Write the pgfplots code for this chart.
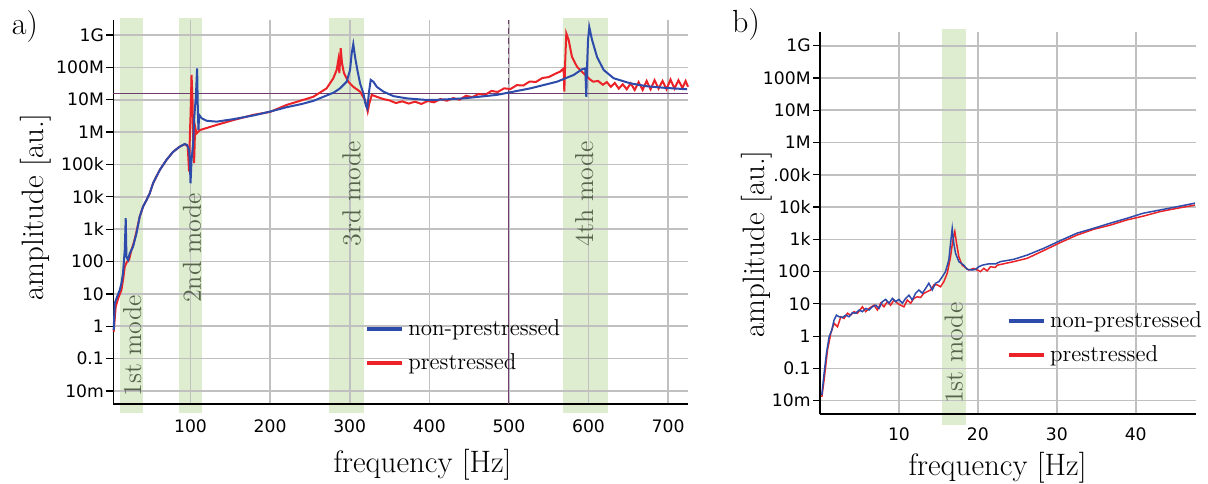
\documentclass[border=0pt]{standalone}
\usepackage{fontspec}
\usepackage{pgfplots}
\pgfplotsset{compat=1.18}
\newfontfamily\ticksf{DejaVu Sans}
\definecolor{nonpre}{RGB}{45,75,170}
\definecolor{pre}{RGB}{235,35,40}
\definecolor{band}{RGB}{222,236,208}
\definecolor{gridgray}{RGB}{192,192,192}
\definecolor{modetxt}{RGB}{85,100,75}
\definecolor{cursor}{RGB}{110,60,110}

\pgfplotsset{
  bandplot/.style={fill=band, draw=none, forget plot, on layer=axis background},
}

\begin{document}
\begin{tikzpicture}
\node[font=\fontsize{16}{18}\selectfont] at (12.5pt,228pt) {a)};
\node[font=\fontsize{16}{18}\selectfont] at (373pt,229pt) {b)};

% ---- a) full range ----
\begin{axis}[
    scale only axis, anchor=south west, clip=false,
    ymode=log, axis lines*=left, set layers=standard,
    grid=major, grid style={line width=0.8pt, gridgray},
    axis line style={black, line width=0.6pt},
    ytick={1e-2,1e-1,1,10,100,1e3,1e4,1e5,1e6,1e7,1e8,1e9},
    tick align=outside, major tick length=3.5pt,
    xtick style={draw=none}, ytick style={black, line width=0.6pt},
    minor y tick style={draw=none},
    ticklabel style={font=\ticksf\fontsize{8.6}{10}\selectfont},
    yticklabel style={inner sep=1pt},
    label style={font=\fontsize{15.5}{18}\selectfont},
    legend cell align=left, reverse legend,
    legend image code/.code={\draw[#1,line width=2pt] (0pt,0pt) -- (17.5pt,0pt);},
    at={(56.65pt,39.5pt)}, width=287.35pt, height=192pt,
    xmin=3, xmax=725, ymin=3.97e-3, ymax=2.9e9,
    xtick={100,200,300,400,500,600,700},
    xticklabels={100,200,300,400,500,600,700},
    yticklabels={10m,0.1,1,10,100,1k,10k,100k,1M,10M,100M,1G},
    xticklabel style={yshift=-1pt},
    xlabel={frequency [Hz]}, ylabel={amplitude [au.]},
    xlabel style={at={(axis description cs:0.538,-0.159)}, anchor=center},
    ylabel style={at={(axis description cs:-0.1345,0.513)}, anchor=center},
    legend style={at={(axis description cs:0.438,0.1516)}, anchor=west,
      draw=none, fill=none, inner sep=0pt, row sep=3.5pt,
      font=\fontsize{11.5}{13}\selectfont},
]
\addplot[bandplot] coordinates {(12,2.1e-3) (40,2.1e-3) (40,3.35e9) (12,3.35e9)};
\addplot[bandplot] coordinates {(86,2.1e-3) (114,2.1e-3) (114,3.35e9) (86,3.35e9)};
\addplot[bandplot] coordinates {(274,2.1e-3) (318,2.1e-3) (318,3.35e9) (274,3.35e9)};
\addplot[bandplot] coordinates {(568,2.1e-3) (625,2.1e-3) (625,3.35e9) (568,3.35e9)};

\addplot[cursor, line width=0.5pt, forget plot] coordinates {(3,1.55e7) (725,1.55e7)};
\addplot[cursor, line width=0.5pt, forget plot] coordinates {(500,3.97e-3) (500,1.55e7)};
\addplot[cursor, line width=0.5pt, densely dashed, forget plot] coordinates {(500,1.55e7) (500,2.9e9)};

% prestressed
\addplot[pre, line width=1pt] coordinates {
(3.5,0.68) (6,4.0) (9,7.2) (13.2,13.2) (15.5,30) (17.4,69) (20.3,100) (22.8,112)
(25.8,229) (29,400) (32.1,832) (36.2,2450) (40.4,5000) (44.7,7900) (48.8,12900)
(53,26300) (61.4,67600) (69.8,138000) (78.1,245000) (86.5,355000) (93,427000)
(96.5,355000) (98.2,60000) (99.3,1.0e6) (100,3.0e6) (101.3,5.8e7) (102.5,9.8e6)
(103.3,7.2e5) (104.5,1.1e5) (105.8,1.48e6) (107.5,9.1e5) (111.7,1.15e6)
(132.7,1.66e6) (153.6,2.34e6) (179,3.4e6) (200,4.2e6) (220.8,6.9e6) (254.2,1.23e7)
(271,2.24e7) (279.4,4.6e7) (283.6,8.3e7) (285.7,1.7e8) (287,6.6e7) (288.7,3.9e8)
(290.3,1.35e8) (292.8,6.6e7) (298.2,3.6e7) (304.5,2.5e7) (313,1.78e7) (319.2,9.8e6)
(322.6,4.3e6) (324.7,7.8e6) (327.7,1.41e7) (334,1.23e7) (342,1.05e7)
(350,9.5e6) (358,7.9e6) (366,8.9e6) (374,7.6e6) (382,8.7e6) (390,7.4e6) (398,9.1e6)
(406,8.3e6) (414,1.05e7) (422,9.3e6) (430,1.12e7) (438,1.0e7) (446,1.32e7) (454,1.2e7)
(462,1.51e7) (470,1.41e7) (478,1.86e7) (486,1.74e7) (494,2.24e7) (502,2.14e7)
(510,2.82e7) (518,2.75e7) (526,3.63e7) (534,3.55e7) (542,4.68e7) (550,5.0e7)
(558,6.3e7) (564.5,7.4e7) (568.7,9.3e7) (569.6,1.78e7) (570.8,1.7e8) (572.1,1.12e9)
(575,7.1e8) (579.2,2.1e8) (585.5,1.05e8) (596,5.8e7) (602,4.2e7) (606,3.6e7)
(612,3.8e7) (618,2.9e7) (623,3.5e7) (628,2.5e7) (633,3.3e7) (638,2.2e7) (643,3.0e7)
(648,2.1e7) (653,3.2e7) (658,2.0e7) (663,3.5e7) (668,2.0e7) (673,3.8e7) (678,2.1e7)
(683,4.0e7) (688,2.2e7) (693,3.8e7) (698,2.1e7) (703,4.2e7) (708,2.2e7) (713,4.0e7)
(718,2.3e7) (722,3.8e7) (725,2.5e7)
};
\addlegendentry{prestressed}
% non-prestressed
\addplot[nonpre, line width=1pt] coordinates {
(3.5,0.76) (4.8,5.1) (7.7,8.1) (11.1,13.2) (13.2,21.4) (15.2,43.7) (17.4,229)
(18.6,2190) (19.5,141) (21.5,112) (23.6,178) (27.8,288) (32.1,741) (36.2,2450)
(40.4,5000) (44.7,7900) (48.8,12900) (53,26300) (61.4,67600) (69.8,138000)
(78.1,245000) (86.5,355000) (92.8,427000) (95.7,398000) (98.2,282000) (99.1,138000)
(100,26300) (101.3,138000) (103.3,447000) (104.5,2.34e6) (105.4,4.8e6) (106.7,1.2e7)
(108.3,9.3e7) (109.2,4.8e6) (110,1.15e6) (110.8,3.4e6) (113.8,2.7e6) (120.1,2.24e6)
(132.7,2.1e6) (153.6,2.5e6) (180,3.3e6) (200,4.3e6) (220,5.8e6) (240,7.4e6)
(255,9.3e6) (270,1.32e7) (280,1.66e7) (287.8,2.24e7) (296.2,3.6e7) (300.4,8.3e7)
(302.5,2.7e8) (304.5,5.2e8) (306.7,2.1e8) (309.6,8.3e7) (313,3.2e7) (317.1,1.58e7)
(320.1,6.9e6) (322.1,5.4e6) (324.3,1.78e7) (326.4,4.1e7) (329.7,3.6e7) (334,2.5e7)
(342.3,1.78e7) (354.9,1.29e7) (371.7,1.1e7) (396.9,9.8e6) (413.6,1.0e7) (443,1.1e7)
(485,1.41e7) (526.8,2.24e7) (560.4,3.6e7) (581.3,5.8e7) (591.8,8.7e7) (596,9.3e7)
(597.2,1.23e7) (598.1,9.3e7) (599.4,7.1e8) (601,1.74e9) (604.4,7.1e8) (610.7,2.1e8)
(619,8.3e7) (631.6,4.6e7) (652.6,3.2e7) (673.6,2.6e7) (694.5,2.34e7) (723.9,2.1e7)
};
\addlegendentry{non-prestressed}

\node[rotate=90, text=modetxt, font=\fontsize{13}{15}\selectfont] at (axis cs:26.8,0.245) {1st mode};
\node[rotate=90, text=modetxt, font=\fontsize{13}{15}\selectfont] at (axis cs:101.9,263) {2nd mode};
\node[rotate=90, text=modetxt, font=\fontsize{13}{15}\selectfont] at (axis cs:302.5,12300) {3rd mode};
\node[rotate=90, text=modetxt, font=\fontsize{13}{15}\selectfont] at (axis cs:594.7,12300) {4th mode};
\end{axis}

% ---- b) low frequency ----
\begin{axis}[
    scale only axis, anchor=south west, clip=false,
    ymode=log, axis lines*=left, set layers=standard,
    grid=major, grid style={line width=0.8pt, gridgray},
    axis line style={black, line width=0.6pt},
    ytick={1e-2,1e-1,1,10,100,1e3,1e4,1e5,1e6,1e7,1e8,1e9},
    tick align=outside, major tick length=3.5pt,
    xtick style={draw=none}, ytick style={black, line width=0.6pt},
    minor y tick style={draw=none},
    ticklabel style={font=\ticksf\fontsize{8.6}{10}\selectfont},
    yticklabel style={inner sep=1pt},
    label style={font=\fontsize{15.5}{18}\selectfont},
    legend cell align=left, reverse legend,
    legend image code/.code={\draw[#1,line width=2pt] (0pt,0pt) -- (17.5pt,0pt);},
    at={(410pt,34.5pt)}, width=187.85pt, height=191pt,
    xmin=0, xmax=47.6, ymin=3.87e-3, ymax=2.66e9,
    xtick={10,20,30,40}, xticklabels={10,20,30,40},
    yticklabels={10m,0.1,1,10,100,1k,10k,.00k,1M,10M,100M,1G},
    xticklabel style={yshift=0pt},
    xlabel={frequency [Hz]}, ylabel={amplitude [au.]},
    xlabel style={at={(axis description cs:0.4725,-0.141)}, anchor=center},
    ylabel style={at={(axis description cs:-0.1685,0.445)}, anchor=center},
    legend style={at={(axis description cs:0.497,0.200)}, anchor=west,
      draw=none, fill=none, inner sep=0pt, row sep=3.5pt,
      font=\fontsize{11.5}{13}\selectfont},
]
\addplot[bandplot] coordinates {(15.5,1.8e-3) (18.5,1.8e-3) (18.5,3.3e9) (15.5,3.3e9)};

\addplot[pre, line width=0.75pt] coordinates {
(0.23,0.013) (0.52,0.044) (0.95,0.37) (1.37,1.23) (1.78,2.51) (2.21,1.95) (2.63,3.98)
(3.05,3.55) (3.48,5.13) (3.89,4.47) (4.31,5.75) (4.74,5.13) (5.37,8.13) (5.79,5.75)
(6.21,7.24) (6.84,9.12) (7.27,6.46) (7.69,10.5) (8.1,8.13) (8.53,11.7) (8.95,9.12)
(9.37,13.2) (9.8,10.5) (10.21,9.12) (10.63,8.13) (11.06,13.2) (11.48,10.5) (11.9,14.8)
(12.33,16.6) (12.74,15.8) (13.16,21.4) (13.59,24.0) (14.01,26.9) (14.43,38.9)
(14.85,38.9) (15.27,33.9) (15.69,49.0) (16.12,89.1) (16.54,288) (16.83,955)
(17.08,1740) (17.3,759) (17.59,288) (18.01,158) (18.85,112) (19.48,126) (19.91,112)
(20.33,100) (20.75,126) (21.18,105) (21.59,141) (22.23,135) (22.44,158) (24.54,204)
(26.23,257) (28.33,447) (30.44,794) (32.55,1350) (34.65,2040) (36.76,2750)
(38.87,3980) (40.97,5250) (43.08,7240) (45.2,9120) (47.5,11500)
};
\addlegendentry{prestressed}
\addplot[nonpre, line width=0.75pt] coordinates {
(0.23,0.015) (0.52,0.071) (0.82,0.30) (1.15,0.95) (1.49,1.55) (1.78,3.16) (2.08,4.47)
(2.42,3.98) (2.84,3.80) (3.26,4.47) (3.68,3.98) (4.1,5.37) (4.53,5.13) (4.95,6.46)
(5.37,5.75) (5.79,7.24) (6.21,6.46) (6.64,8.13) (7.06,9.12) (7.47,7.24) (7.9,11.7)
(8.32,13.8) (8.74,10.5) (9.17,14.8) (9.58,11.7) (10.0,13.8) (10.43,10.5) (10.85,14.8)
(11.27,18.6) (11.69,13.2) (12.11,21.4) (12.53,26.9) (12.96,21.4) (13.38,30.2)
(13.79,43.7) (14.22,26.9) (14.64,43.7) (15.06,49.0) (15.49,69.2) (15.9,100)
(16.32,229) (16.54,759) (16.75,2190) (16.95,759) (17.17,372) (17.59,204) (18.22,158)
(18.65,117) (19.28,112) (19.7,117) (20.11,141) (20.54,158) (21.38,174) (22.23,174)
(22.86,204) (24.54,240) (26.23,324) (28.33,525) (30.44,912) (32.55,1550) (34.65,2190)
(36.76,3160) (38.87,4470) (40.97,6460) (43.08,8130) (45.2,10200) (47.5,13200)
};
\addlegendentry{non-prestressed}

\node[rotate=90, text=modetxt, font=\fontsize{13}{15}\selectfont] at (axis cs:16.95,0.295) {1st mode};
\end{axis}
\pgfresetboundingbox
\path[use as bounding box] (0,0) rectangle (604pt,241.5pt);
\end{tikzpicture}
\end{document}
